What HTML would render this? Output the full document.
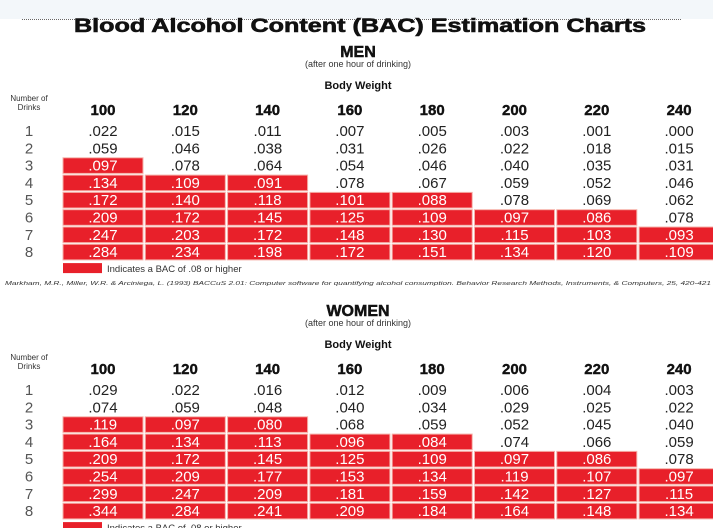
<!DOCTYPE html>
<html><head><meta charset="utf-8"><style>
body{margin:0;width:713px;height:528px;overflow:hidden;background:#fff;font-family:"Liberation Sans",sans-serif}
svg{display:block}
</style></head><body>
<svg id="c" width="713" height="528">
<rect x="0" y="0" width="713" height="19" fill="#f3f7fa"/>
<line x1="22" y1="19.5" x2="682" y2="19.5" stroke="#666" stroke-dasharray="1,1"/>
<text x="360" y="32" text-anchor="middle" font-size="19" font-weight="bold" fill="#111" stroke="#111" stroke-width="0.6" textLength="572" lengthAdjust="spacingAndGlyphs">Blood Alcohol Content (BAC) Estimation Charts</text>
<text x="5" y="285" font-size="5.5" font-style="italic" fill="#333" textLength="706" lengthAdjust="spacingAndGlyphs">Markham, M.R., Miller, W.R. &amp; Arciniega, L. (1993) BACCuS 2.01: Computer software for quantifying alcohol consumption. Behavior Research Methods, Instruments, &amp; Computers, 25, 420-421</text>
</svg>
<script>
const weights=[100,120,140,160,180,200,220,240];
const drinks=[1,2,3,4,5,6,7,8];
const menValues=[
[.022,.015,.011,.007,.005,.003,.001,.000],
[.059,.046,.038,.031,.026,.022,.018,.015],
[.097,.078,.064,.054,.046,.040,.035,.031],
[.134,.109,.091,.078,.067,.059,.052,.046],
[.172,.140,.118,.101,.088,.078,.069,.062],
[.209,.172,.145,.125,.109,.097,.086,.078],
[.247,.203,.172,.148,.130,.115,.103,.093],
[.284,.234,.198,.172,.151,.134,.120,.109]];
const womenValues=[
[.029,.022,.016,.012,.009,.006,.004,.003],
[.074,.059,.048,.040,.034,.029,.025,.022],
[.119,.097,.080,.068,.059,.052,.045,.040],
[.164,.134,.113,.096,.084,.074,.066,.059],
[.209,.172,.145,.125,.109,.097,.086,.078],
[.254,.209,.177,.153,.134,.119,.107,.097],
[.299,.247,.209,.181,.159,.142,.127,.115],
[.344,.284,.241,.209,.184,.164,.148,.134]];
const threshold=0.08;
const svg=document.getElementById('c');
const NS='http://www.w3.org/2000/svg';
function el(t,a,txt){const e=document.createElementNS(NS,t);for(const k in a)e.setAttribute(k,a[k]);if(txt!==undefined)e.textContent=txt;svg.appendChild(e);return e;}
function xc(i){return 103+i*82.3;}
function fmt(v){return v.toFixed(3).replace(/^0/,'');}
function table(prefix,title,top,vals){
 const t=el('text',{x:358,y:top+5,'text-anchor':'middle','font-size':16,'font-weight':'bold',fill:'#111',stroke:'#111','stroke-width':0.5},title);
 
 
 const s=el('text',{x:358,y:top+15,'text-anchor':'middle','font-size':9,fill:'#333'},'(after one hour of drinking)');
 
 
 const b=el('text',{x:358,y:top+37,'text-anchor':'middle','font-size':11,'font-weight':'bold',fill:'#111'},'Body Weight');
 
 
 const n1=el('text',{x:29,y:top+49,'text-anchor':'middle','font-size':8,fill:'#333'},'Number of');
 
 
 const n2=el('text',{x:29,y:top+58,'text-anchor':'middle','font-size':8,fill:'#333'},'Drinks');
 
 
 weights.forEach((w,i)=>{
  const h=el('text',{x:xc(i),y:top+63,'text-anchor':'middle','font-size':15,'font-weight':'bold',fill:'#111',stroke:'#111','stroke-width':0.4},w);
  
  
 });
 const r1=top+79;
 drinks.forEach((d,r)=>{
  const cy=r1+r*17.3;
  const l=el('text',{x:29,y:cy+5,'text-anchor':'middle','font-size':15,fill:'#555'},d);
  
  
  weights.forEach((w,i)=>{
   const v=vals[r][i];const red=v>=threshold;
   if(red){
    const c=el('rect',{x:xc(i)-40,y:cy-7.8,width:80,height:15.6,fill:'#e8202a',stroke:'#f6b0a8','stroke-width':1});
    
    
   }
   const tx=el('text',{x:xc(i),y:cy+5,'text-anchor':'middle','font-size':15,fill:red?'#fff':'#222'},fmt(v));
   
   
  });
 });
 const ly=r1+7*17.3+11;
 const lr=el('rect',{x:63,y:ly,width:39,height:10,fill:'#e8202a'});
 
 
 const lt=el('text',{x:107,y:ly+9,'font-size':9.5,fill:'#333'},'Indicates a BAC of .08 or higher');
 
 
}
table('men','MEN',52,menValues);
table('women','WOMEN',311,womenValues);
</script>
</body></html>
